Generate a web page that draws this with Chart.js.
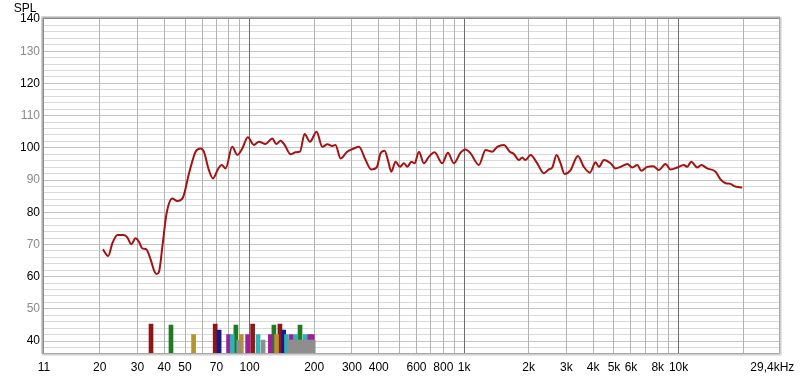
<!DOCTYPE html>
<html>
<head>
<meta charset="utf-8">
<script src="https://cdn.jsdelivr.net/npm/chart.js@4.4.1/dist/chart.umd.min.js"></script>
<style>
  html, body { margin: 0; padding: 0; background: #fff; }
  #wrap { width: 800px; height: 378px; }
</style>
</head>
<body>
<div id="wrap"><canvas id="splChart" width="800" height="378"></canvas></div>
<script>
/* ================================================
   SPL response + room modes (REW style)
================================================ */

const FONT = '"Liberation Sans", Arial, sans-serif';

// measured response, Hz / dB
const responseFreqs = [
  20.7, 21.9, 22.9, 24.2, 25.9, 26.9, 28.1, 29.4, 30.5, 31.6, 33.0, 34.6, 35.8, 36.8, 37.8,
  39.2, 41.0, 43.6, 46.0, 48.9, 52.2, 56.0, 59.1, 61.2, 64.6, 67.5, 71.5, 74.1, 77.3, 83.0,
  87.6, 92.5, 98.0, 104.7, 110.5, 118.7, 127.6, 133.2, 139.5, 145.6, 155.3, 163.8, 171.7,
  180.5, 191.1, 205.3, 218.2, 230.5, 243, 251.6, 265.6, 285, 306.4, 323.4, 347.4, 369, 391,
  408, 426, 441.6, 457.7, 479.3, 502, 524, 543.7, 567.8, 588, 616, 649.6, 685, 728.7, 791,
  840.5, 896, 963, 1014, 1072, 1172, 1260, 1354, 1428, 1533, 1635, 1707, 1801, 1866, 1933,
  2042, 2194, 2355, 2486, 2578, 2699, 2818, 2942, 3137, 3393, 3617, 3859, 4103, 4252, 4486,
  4820, 5086, 5365, 5772, 6083, 6423, 6700, 7150, 7623, 8090, 8698, 9174, 9862, 10585,
  10977, 11460, 12226, 12771, 13605, 14876, 15696, 16608, 17478, 18155, 19818
];
const responseSpl = [
  68.5, 66.4, 70.3, 72.9, 72.9, 72.2, 70.1, 71.9, 70.8, 68.8, 68.5, 65.2, 62.0, 60.8, 61.5,
  69.3, 79.6, 84.3, 83.5, 84.6, 92.1, 98.8, 99.8, 98.8, 93.1, 90.5, 93.6, 94.7, 93.6, 100.3,
  97.8, 99.8, 103.3, 100.9, 101.9, 101.2, 102.9, 101.2, 102.2, 100.9, 98.0, 98.6, 98.8,
  104.3, 101.9, 105.0, 100.3, 101.1, 100.6, 100.9, 96.7, 98.8, 99.8, 100.3, 96.2, 93.3, 93.9,
  98.3, 99.1, 96.2, 92.6, 95.7, 94.1, 95.2, 94.1, 95.7, 95.2, 98.8, 95.2, 97.2, 98.6, 95.2,
  98.5, 95.2, 98.5, 99.5, 98.3, 94.7, 99.3, 98.8, 100.3, 100.9, 98.8, 98.1, 96.2, 97.0, 96.2,
  97.8, 95.2, 92.1, 93.3, 93.9, 97.8, 95.2, 91.9, 93.1, 97.5, 94.1, 92.3, 95.5, 94.1, 96.2,
  95.2, 93.6, 94.1, 95.0, 93.9, 94.7, 92.9, 94.1, 94.3, 93.1, 95.0, 93.3, 93.9, 94.7,
  94.1, 95.7, 93.9, 94.7, 93.6, 92.6, 90.2, 89.0, 88.8, 88.1, 87.7
];

// room mode markers, Hz, one list per group
const redModes = [34.7, 69.1, 103.3, 138.5];
const greenModes = [43.0, 86.3, 129.8, 171.8];
const navyModes = [72.1, 144.2];
const oliveModes = [54.8, 91.5, 133.6];
const purpleModes = [79.8, 97.9, 125, 156.6, 190, 196];
const tealModes = [83.0, 109.5, 148.6, 164.3, 181.4];
const grayModes = [89, 115.6, 154, 160, 166, 172, 179, 186, 192, 198];
// marker level of each group, dB (same order as above)
const modeLevels = [45.3, 45.0, 43.4, 42.0, 42.0, 42.0, 40.3];

// axis ticks
const xGridFreqs = [
  11, 20, 30, 40, 50, 60, 70, 80, 90, 100, 200, 300, 400, 500, 600, 700, 800, 900,
  1000, 2000, 3000, 4000, 5000, 6000, 7000, 8000, 9000, 10000, 20000, 29400
];
const xLabelFreqs = [11, 20, 30, 40, 50, 70, 100, 200, 300, 400, 600, 800, 1000, 2000, 3000, 4000, 5000, 6000, 8000, 10000, 29400];
const xLabelTexts = ['11', '20', '30', '40', '50', '70', '100', '200', '300', '400', '600', '800', '1k', '2k', '3k', '4k', '5k', '6k', '8k', '10k', '29,4kHz    '];
const yMin = 36.3;
const yMax = 140;

const frame = {
  id: 'frame',
  afterDatasetsDraw(chart) {
    const { ctx, chartArea: a } = chart;
    const line = (c, x1, y1, x2, y2) => {
      ctx.strokeStyle = c;
      ctx.beginPath();
      ctx.moveTo(x1, y1);
      ctx.lineTo(x2, y2);
      ctx.stroke();
    };
    ctx.save();
    ctx.lineWidth = 1;
    // raised top / left edge
    ['#d4d4d4', '#b0b0b0', '#8a8a8a'].forEach((c, i) => {
      const o = 2.5 - i;
      line(c, a.left - o, a.top - o, a.right + 1, a.top - o);
      line(c, a.left - o, a.top - o, a.left - o, a.bottom + 1);
    });
    // lighter right / bottom edge
    ['#a8a8a8', '#cfcfcf', '#e6e6e6'].forEach((c, i) => {
      const o = 0.5 + i;
      line(c, a.right + o, a.top - 2, a.right + o, a.bottom + o);
      line(c, a.left - 2, a.bottom + o, a.right + o, a.bottom + o);
    });
    ctx.fillStyle = '#000';
    ctx.font = '12px ' + FONT;
    ctx.textAlign = 'center';
    ctx.textBaseline = 'alphabetic';
    ctx.fillText('SPL', 25, 12);
    ctx.restore();
  }
};

function modeSet(freqs, level, color) {
  return {
    type: 'bar',
    data: freqs.map(f => ({ x: f, y: level })),
    backgroundColor: color,
    borderWidth: 0,
    barThickness: 4,
    grouped: false
  };
}

function initChart() {
  const ctx = document.getElementById('splChart').getContext('2d');

  new Chart(ctx, {
    type: 'line',
    data: {
      datasets: [
        {
          type: 'line',
          data: responseFreqs.map((f, i) => ({ x: f, y: responseSpl[i] })),
          borderColor: '#a51212',
          borderWidth: 2,
          pointRadius: 0,
          cubicInterpolationMode: 'monotone',
          fill: false
        },
        modeSet(grayModes, modeLevels[6], '#8e8e8e'),
        modeSet(tealModes, modeLevels[5], '#2db3b3'),
        modeSet(purpleModes, modeLevels[4], '#9c1f9c'),
        modeSet(oliveModes, modeLevels[3], '#b4922c'),
        modeSet(navyModes, modeLevels[2], '#18188a'),
        modeSet(greenModes, modeLevels[1], '#217a21'),
        modeSet(redModes, modeLevels[0], '#8e1616')
      ]
    },
    options: {
      responsive: false,
      animation: false,
      layout: { padding: { top: 19, right: 21, bottom: 0, left: 0 } },
      plugins: {
        legend: { display: false },
        tooltip: { enabled: false }
      },
      scales: {
        x: {
          type: 'logarithmic',
          min: 11,
          max: 29400,
          offset: false,
          afterBuildTicks: scale => { scale.ticks = xGridFreqs.map(v => ({ value: v })); },
          afterFit: scale => { scale.height = 25; scale.paddingLeft = 0; scale.paddingRight = 0; },
          border: { display: false },
          grid: {
            drawTicks: false,
            offset: false,
            z: -1,
            color: c => {
              const v = c.tick.value;
              if (v === 11 || v === 29400) return 'rgba(0,0,0,0)';
              return (v === 100 || v === 1000 || v === 10000) ? '#6c6c6c' : '#b2b2b2';
            }
          },
          ticks: {
            autoSkip: false,
            maxRotation: 0,
            padding: 7,
            color: '#000',
            font: { family: FONT, size: 12 },
            callback: v => {
              const i = xLabelFreqs.indexOf(v);
              return i >= 0 ? xLabelTexts[i] : '';
            }
          }
        },
        y: {
          min: yMin,
          max: yMax,
          afterFit: scale => { scale.width = 44; scale.paddingTop = 0; scale.paddingBottom = 0; },
          border: { display: false },
          grid: {
            drawTicks: false,
            z: -2,
            color: c => (c.tick.value === yMax ? 'rgba(0,0,0,0)' : c.tick.value % 10 === 0 ? '#c4c4c4' : '#dadada')
          },
          ticks: {
            stepSize: 2,
            includeBounds: false,
            autoSkip: false,
            padding: 4,
            font: { family: FONT, size: 12 },
            color: c => (c.tick.value % 20 === 0 ? '#000' : '#8a8a8a'),
            callback: v => (v % 10 === 0 ? String(v) : '')
          }
        }
      }
    },
    plugins: [frame]
  });
}

initChart();
</script>
</body>
</html>
